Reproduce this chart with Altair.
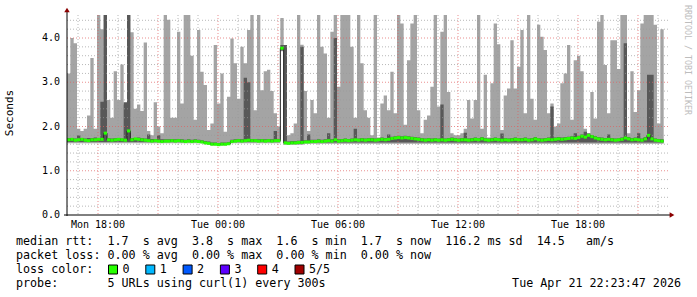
import altair as alt
import pandas as pd

# ---------------- data ----------------
START = 987          # Mon 16:27, minutes since Mon 00:00
STEP = 10            # minutes per consolidated point
END = START + 1800   # 30 hours

# top of the outer smoke (ping 5 of 5), seconds
max_vals = [
    3.20, 4.00, 3.88, 1.95, 1.90, 1.95, 2.25, 3.55, 1.95, 4.52,
    4.20, 4.52, 2.60, 2.20, 3.25, 2.60, 3.40, 2.50, 4.52, 4.13,
    2.40, 2.50, 2.35, 3.90, 1.90, 1.80, 2.55, 2.00, 1.85, 4.52,
    4.41, 2.20, 2.20, 4.14, 2.52, 4.52, 4.52, 3.60, 2.15, 4.18,
    3.24, 2.94, 1.92, 2.07, 3.84, 2.52, 3.20, 1.88, 2.67, 3.99,
    3.43, 2.63, 3.80, 3.43, 4.18, 4.52, 2.37, 4.52, 2.82, 3.25,
    3.28, 2.80, 2.30, 2.00, 4.45, 3.84, 1.80, 1.85, 2.07, 4.52,
    3.85, 2.80, 1.90, 2.60, 2.30, 4.52, 3.80, 3.65, 2.20, 4.14,
    4.52, 2.90, 4.52, 4.52, 4.52, 3.80, 2.20, 4.52, 3.43, 2.37,
    2.20, 1.80, 4.52, 1.75, 2.52, 2.70, 2.37, 3.24, 2.30, 4.52,
    4.33, 2.04, 3.50, 4.33, 4.52, 2.37, 1.85, 2.15, 2.25, 2.90,
    4.52, 2.45, 4.14, 4.52, 2.78, 1.85, 1.80, 1.80, 1.85, 1.95,
    2.60, 2.18, 2.60, 4.52, 1.95, 3.17, 1.75, 2.98, 4.33, 3.86,
    1.92, 2.70, 2.86, 3.95, 2.86, 3.35, 4.18, 2.30, 4.52, 2.63,
    2.15, 4.30, 4.03, 3.73, 2.30, 2.52, 2.00, 2.07, 2.98, 3.20,
    3.84, 2.15, 3.50, 3.60, 3.25, 1.95, 1.85, 2.78, 2.18, 4.37,
    4.52, 3.39, 2.30, 3.95, 3.95, 3.30, 4.52, 4.52, 1.85, 3.25,
    2.33, 2.82, 4.33, 4.52, 4.52, 4.52, 4.30, 2.07, 4.20,
]

# top of the inner smoke (ping 4 of 5)
dark_hi = [
    1.74, 1.74, 1.73, 1.80, 1.74, 1.73, 1.74, 1.74, 1.75, 1.74,
    2.56, 4.52, 1.74, 1.73, 1.74, 1.74, 1.73, 2.55, 4.52, 1.74,
    1.74, 1.75, 1.74, 1.73, 1.82, 1.72, 1.72, 1.80, 1.71, 1.71,
    1.71, 1.72, 1.71, 1.72, 1.71, 1.70, 1.71, 1.70, 1.71, 1.70,
    1.69, 1.67, 1.66, 1.64, 1.64, 1.63, 1.64, 1.64, 1.65, 1.70,
    1.71, 1.72, 1.71, 3.10, 3.00, 1.72, 1.72, 1.71, 1.72, 1.71,
    1.72, 1.71, 1.90, 1.72, 3.84, 3.84, 1.66, 1.67, 1.67, 1.68,
    3.80, 1.69, 1.82, 1.70, 1.70, 1.71, 1.70, 1.71, 1.85, 1.71,
    4.00, 1.71, 1.72, 1.73, 1.72, 1.73, 1.95, 1.73, 1.74, 1.73,
    1.74, 1.74, 1.73, 1.74, 1.75, 1.74, 1.82, 1.77, 1.78, 1.79,
    1.78, 1.79, 1.78, 1.77, 1.76, 1.75, 1.74, 1.73, 1.74, 1.73,
    1.74, 1.73, 2.50, 1.73, 1.74, 1.75, 1.74, 1.73, 1.74, 1.86,
    1.73, 1.74, 1.75, 1.74, 1.76, 1.74, 1.73, 1.74, 1.75, 1.74,
    1.84, 1.74, 1.73, 1.74, 1.75, 1.74, 1.74, 1.75, 1.73, 1.74,
    1.76, 1.74, 1.73, 1.74, 1.75, 2.45, 1.75, 1.76, 1.75, 1.76,
    1.77, 1.78, 1.85, 1.79, 1.82, 1.88, 1.84, 1.81, 1.78, 1.76,
    1.75, 1.74, 1.82, 1.74, 1.73, 1.74, 1.75, 3.88, 1.76, 1.74,
    1.75, 1.85, 1.73, 1.76, 3.17, 3.17, 1.73, 1.72, 1.71,
]

# median rtt
median = [
    1.70, 1.71, 1.69, 1.70, 1.71, 1.69, 1.68, 1.70, 1.70, 1.71,
    1.71, 1.85, 1.70, 1.69, 1.70, 1.71, 1.70, 1.69, 1.90, 1.70,
    1.72, 1.71, 1.70, 1.69, 1.68, 1.67, 1.68, 1.67, 1.66, 1.67,
    1.67, 1.68, 1.67, 1.68, 1.67, 1.66, 1.67, 1.66, 1.67, 1.66,
    1.65, 1.63, 1.62, 1.60, 1.60, 1.59, 1.60, 1.60, 1.61, 1.66,
    1.67, 1.68, 1.67, 1.68, 1.69, 1.68, 1.68, 1.67, 1.68, 1.67,
    1.68, 1.67, 1.68, 1.68, 3.77, 1.63, 1.62, 1.63, 1.63, 1.64,
    1.64, 1.65, 1.65, 1.66, 1.66, 1.67, 1.66, 1.67, 1.68, 1.67,
    1.70, 1.67, 1.68, 1.69, 1.68, 1.69, 1.70, 1.69, 1.70, 1.69,
    1.70, 1.70, 1.69, 1.70, 1.71, 1.70, 1.71, 1.73, 1.74, 1.75,
    1.74, 1.75, 1.74, 1.73, 1.72, 1.71, 1.70, 1.69, 1.70, 1.69,
    1.70, 1.69, 1.70, 1.69, 1.70, 1.71, 1.70, 1.69, 1.70, 1.70,
    1.69, 1.70, 1.71, 1.70, 1.72, 1.70, 1.69, 1.70, 1.71, 1.70,
    1.69, 1.70, 1.69, 1.70, 1.71, 1.70, 1.70, 1.71, 1.69, 1.70,
    1.72, 1.70, 1.69, 1.70, 1.71, 1.70, 1.71, 1.72, 1.71, 1.72,
    1.73, 1.74, 1.73, 1.75, 1.78, 1.76, 1.80, 1.77, 1.74, 1.72,
    1.71, 1.70, 1.71, 1.70, 1.69, 1.70, 1.71, 1.74, 1.72, 1.70,
    1.71, 1.70, 1.69, 1.72, 1.80, 1.72, 1.69, 1.68, 1.67,
]

# bottom of the outer smoke (ping 1) and of the inner smoke (ping 2)
low_vals = [1.62] * 41 + [1.60, 1.59, 1.57, 1.57, 1.56, 1.57, 1.57, 1.58] \
    + [1.62] * 15 + [3.70] + [1.59] * 6 + [1.61] * 108
dark_lo = [1.65] * 41 + [1.62, 1.61, 1.59, 1.59, 1.58, 1.59, 1.59, 1.60] \
    + [1.65] * 15 + [3.72] + [1.61] * 6 + [1.64] * 108

# axes
y_tick_vals = [0, 1, 2, 3, 4]
y_tick_labels = ["0.0", "1.0", "2.0", "3.0", "4.0"]
y_minor = [0.2, 0.4, 0.6, 0.8, 1.2, 1.4, 1.6, 1.8, 2.2, 2.4, 2.6, 2.8,
           3.2, 3.4, 3.6, 3.8, 4.2, 4.4]
x_tick_vals = [1080, 1440, 1800, 2160, 2520]
x_tick_labels = ["Mon 18:00", "Tue 00:00", "Tue 06:00", "Tue 12:00", "Tue 18:00"]
x_major = [1080, 1260, 1440, 1620, 1800, 1980, 2160, 2340, 2520, 2700]
x_minor = [h * 60 for h in range(17, 47) if (h * 60) not in x_major]

loss_labels = ["0", "1", "2", "3", "4", "5/5"]
loss_colors = ["#26ff00", "#00b8ff", "#0059ff", "#5e00ff", "#ff0000", "#a00000"]

legend_lines = [
    "median rtt:  1.7  s avg  3.8  s max  1.6  s min  1.7  s now  116.2 ms sd  14.5   am/s",
    "packet loss: 0.00 % avg  0.00 % max  0.00 % min  0.00 % now",
    "loss color:",
    "probe:       5 URLs using curl(1) every 300s",
]
stamp = "Tue Apr 21 22:23:47 2026"

# ---------------- layout ----------------
W, H = 600, 200
PL, PT = 67, 15
FONT = "DejaVu Sans Mono"


def nb(s):
    return s.replace(" ", "\u00a0")


n = len(max_vals)
times = [START + STEP * i for i in range(n)]
df = pd.DataFrame({
    "t": times, "t2": [t + STEP for t in times],
    "hi": max_vals, "lo": low_vals, "dhi": dark_hi, "dlo": dark_lo, "med": median,
})
last = df.iloc[[-1]].copy()
last["t"] = last["t2"]
area_df = pd.concat([df, last], ignore_index=True)

xs = alt.Scale(domain=[START, END], nice=False, zero=False)
ys = alt.Scale(domain=[0, 4.52], nice=False, zero=True)
X = lambda f: alt.X(f, scale=xs, axis=None)
Y = lambda f: alt.Y(f, scale=ys, axis=None)
one = pd.DataFrame({"a": [0]})

light = alt.Chart(area_df).mark_area(interpolate="step-after", color="#a4a4a4").encode(
    x=X("t:Q"), y=Y("hi:Q"), y2="lo:Q")
dark = alt.Chart(area_df).mark_area(interpolate="step-after", color="#585858").encode(
    x=X("t:Q"), y=Y("dhi:Q"), y2="dlo:Q")

grid_minor_h = alt.Chart(pd.DataFrame({"v": y_minor})).mark_rule(
    color="#9a9a9a", strokeDash=[1, 2], strokeWidth=1, opacity=0.7).encode(
    y=Y("v:Q"), x=alt.value(0), x2=alt.value(W + 1))
grid_major_h = alt.Chart(pd.DataFrame({"v": y_tick_vals[1:]})).mark_rule(
    color="#e06060", strokeDash=[1, 2], strokeWidth=1, opacity=0.7).encode(
    y=Y("v:Q"), x=alt.value(0), x2=alt.value(W + 1))
grid_minor_v = alt.Chart(pd.DataFrame({"v": x_minor})).mark_rule(
    color="#9a9a9a", strokeDash=[1, 2], strokeWidth=1, opacity=0.7).encode(
    x=X("v:Q"), y=alt.value(0), y2=alt.value(H))
grid_major_v = alt.Chart(pd.DataFrame({"v": x_major})).mark_rule(
    color="#e06060", strokeDash=[1, 2], strokeWidth=1, opacity=0.7).encode(
    x=X("v:Q"), y=alt.value(0), y2=alt.value(H))

med_black = alt.Chart(area_df).mark_line(interpolate="step-after", color="#202020",
                                         strokeWidth=1).encode(x=X("t:Q"), y=Y("med:Q"))
med_green = alt.Chart(df).mark_rule(color="#26ff00", strokeWidth=3, strokeCap="butt").encode(
    x=X("t:Q"), x2="t2:Q", y=Y("med:Q"))

y_axis = alt.Chart(one).mark_rule(color="#000000", strokeWidth=1).encode(
    x=alt.value(0), y=alt.value(-3), y2=alt.value(H + 1))
x_axis = alt.Chart(one).mark_rule(color="#000000", strokeWidth=1).encode(
    y=alt.value(H), x=alt.value(-3), x2=alt.value(W + 3))
arrow_up = alt.Chart(one).mark_point(shape="triangle-up", filled=True, color="#8b0000",
                                     size=30, opacity=1).encode(x=alt.value(0), y=alt.value(-5))
arrow_right = alt.Chart(one).mark_point(shape="triangle-right", filled=True, color="#8b0000",
                                        size=30, opacity=1).encode(x=alt.value(W + 5), y=alt.value(H))

y_labels = alt.Chart(pd.DataFrame({"v": y_tick_vals, "s": y_tick_labels})).mark_text(
    align="right", baseline="middle", font=FONT, fontSize=10, color="#000000").encode(
    y=Y("v:Q"), x=alt.value(-7), text="s:N")
x_labels = alt.Chart(pd.DataFrame({"v": x_tick_vals, "s": x_tick_labels})).mark_text(
    align="center", baseline="middle", font=FONT, fontSize=10, color="#000000").encode(
    x=X("v:Q"), y=alt.value(H + 10), text="s:N")

y_title = alt.Chart(one).mark_text(text="Seconds", angle=270, align="center", baseline="middle",
                                   font=FONT, fontSize=11, color="#000000").encode(
    x=alt.value(10 - PL), y=alt.value(113 - PT))
watermark = alt.Chart(one).mark_text(text="RRDTOOL / TOBI OETIKER", angle=90, align="center",
                                     baseline="middle", font=FONT, fontSize=8.3,
                                     color="#bdbdbd").encode(
    x=alt.value(687 - PL), y=alt.value(60 - PT))

layers = [light, dark, grid_minor_h, grid_minor_v, grid_major_h, grid_major_v,
          med_black, med_green, y_axis, x_axis, arrow_up, arrow_right,
          y_labels, x_labels, y_title, watermark]

line_y = [241, 255, 269, 283]
for s, yy in zip(legend_lines, line_y):
    layers.append(alt.Chart(one).mark_text(text=nb(s), align="left", baseline="middle",
                                           font=FONT, fontSize=11.7, color="#000000").encode(
        x=alt.value(16 - PL), y=alt.value(yy - PT)))
layers.append(alt.Chart(one).mark_text(text=nb(stamp), align="right", baseline="middle",
                                       font=FONT, fontSize=11.7, color="#000000").encode(
    x=alt.value(681 - PL), y=alt.value(283 - PT)))

box_df = pd.DataFrame({
    "lab": loss_labels, "col": loss_colors,
    "bx": [108.5 + 37.3 * i - PL for i in range(len(loss_labels))],
})
box_df["bx2"] = box_df["bx"] + 9
box_df["tx"] = box_df["bx"] + 14
layers.append(alt.Chart(box_df).mark_rect(stroke="#000000", strokeWidth=1).encode(
    x=alt.X("bx:Q", scale=None), x2="bx2:Q",
    y=alt.value(265 - PT), y2=alt.value(274 - PT),
    fill=alt.Fill("col:N", scale=None)))
layers.append(alt.Chart(box_df).mark_text(align="left", baseline="middle", font=FONT,
                                          fontSize=11.7, color="#000000").encode(
    x=alt.X("tx:Q", scale=None), y=alt.value(269 - PT), text="lab:N"))

chart = alt.layer(*layers).properties(
    width=W, height=H,
    padding={"left": PL, "top": PT, "right": 697 - PL - W, "bottom": 297 - PT - H},
    autosize="none", background="#ffffff",
).configure_view(stroke=None)

chart.save("out.html", embed_options={"renderer": "svg", "actions": False})
